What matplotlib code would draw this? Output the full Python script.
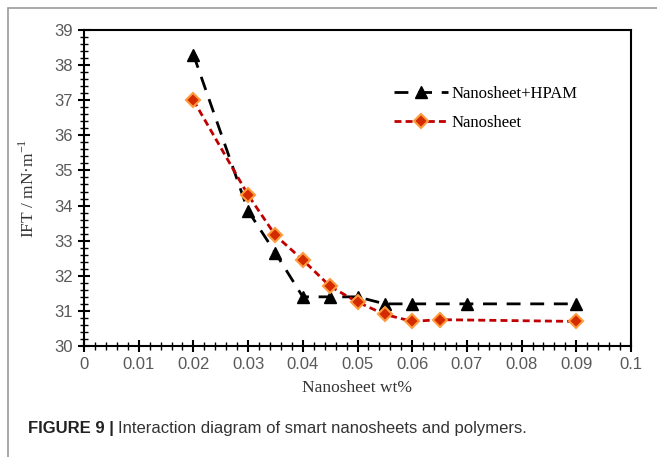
import matplotlib.pyplot as plt
from matplotlib.ticker import MultipleLocator
from matplotlib.patches import Rectangle

# data
x_hpam = [0.02, 0.03, 0.035, 0.04, 0.045, 0.05, 0.055, 0.06, 0.07, 0.09]
ift_hpam = [38.3, 33.85, 32.65, 31.4, 31.4, 31.4, 31.2, 31.2, 31.2, 31.2]
x_sheet = [0.02, 0.03, 0.035, 0.04, 0.045, 0.05, 0.055, 0.06, 0.065, 0.09]
ift_sheet = [37.0, 34.3, 33.15, 32.45, 31.7, 31.25, 30.9, 30.7, 30.75, 30.7]
x_ticks = [0, 0.01, 0.02, 0.03, 0.04, 0.05, 0.06, 0.07, 0.08, 0.09, 0.1]
x_labels = ["0", "0.01", "0.02", "0.03", "0.04", "0.05", "0.06", "0.07", "0.08", "0.09", "0.1"]
y_ticks = [30, 31, 32, 33, 34, 35, 36, 37, 38, 39]

plt.rcParams["mathtext.fontset"] = "custom"
plt.rcParams["mathtext.rm"] = "Liberation Serif"

W, H = 657, 457
fig = plt.figure(figsize=(W / 100, H / 100), dpi=100)
ax = fig.add_axes([84 / W, 1 - 346 / H, (631 - 84) / W, (346 - 30) / H])

ax.plot(x_hpam, ift_hpam, color="black", lw=2, dashes=(5, 3.5), marker="^",
        ms=8, mfc="black", mec="black", label="Nanosheet+HPAM")
ax.plot(x_sheet, ift_sheet, color="#C00000", lw=2, dashes=(2.5, 1.5), marker="D",
        ms=7, mfc="#D42A00", mec="#FF9A3C", mew=1.5, label="Nanosheet")

ax.set_xlim(0, 0.1)
ax.set_ylim(30, 39)
ax.set_xticks(x_ticks)
ax.set_xticklabels(x_labels)
ax.set_yticks(y_ticks)
ax.xaxis.set_minor_locator(MultipleLocator(0.002))
ax.yaxis.set_minor_locator(MultipleLocator(0.2))
ax.tick_params(which="major", direction="inout", length=8, width=1.5,
               labelsize=12, labelcolor="#595959", pad=4)
ax.tick_params(which="minor", direction="inout", length=6, width=1.0)
for lab in ax.get_xticklabels() + ax.get_yticklabels():
    lab.set_family("Liberation Sans")
for s in ax.spines.values():
    s.set_linewidth(1.5)

ax.set_xlabel("Nanosheet wt%", family="Liberation Serif", fontsize=12.5, color="#333333", labelpad=6)
ax.set_ylabel(r"IFT / mN·m$^{\mathrm{-1}}$", family="Liberation Serif", fontsize=12.5,
              color="#333333", labelpad=12)

leg = ax.legend(loc="upper left", bbox_to_anchor=(0.54, 0.87), frameon=False,
                prop={"family": "Liberation Serif", "size": 12}, handlelength=3.2,
                labelspacing=0.75, handletextpad=0.2)

fig.add_artist(Rectangle((8 / W, -0.1), 1.2, 1 - 8 / H + 0.1, transform=fig.transFigure,
                         fill=False, edgecolor="#999999", lw=1.2))
t1 = fig.text(28 / W, 1 - 428 / H, "FIGURE 9 |", family="Liberation Sans", fontweight="bold",
              fontsize=12, color="#222222", va="center")
ax.annotate("Interaction diagram of smart nanosheets and polymers.", xy=(1, 0.5), xycoords=t1,
            xytext=(3, 0), textcoords="offset points", va="center", ha="left",
            family="Liberation Sans", fontsize=12, color="#333333", annotation_clip=False)

fig.savefig("out.png", dpi=100)
